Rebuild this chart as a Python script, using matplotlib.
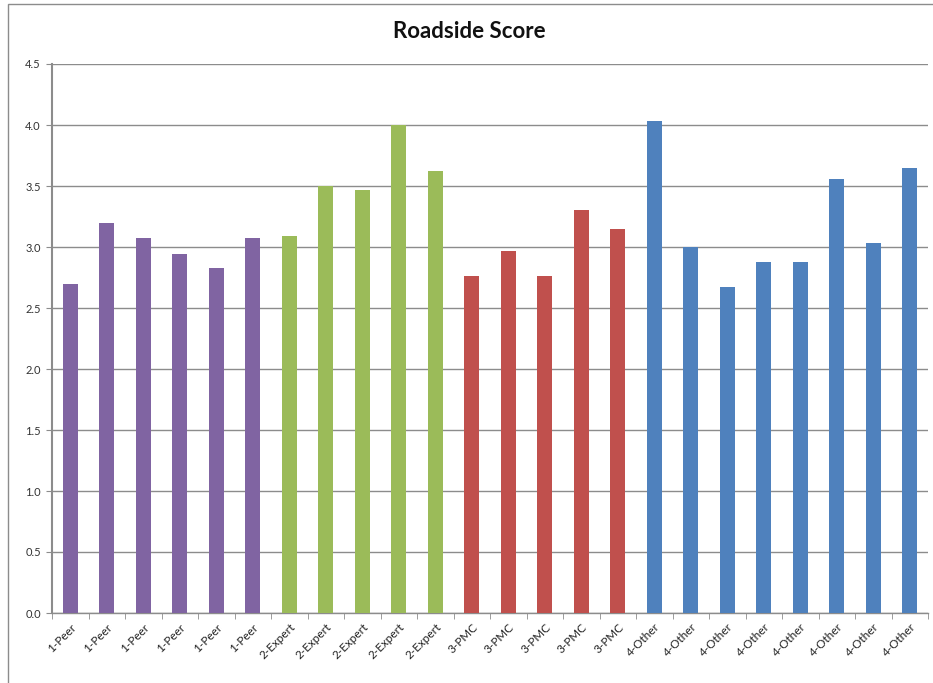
import matplotlib
matplotlib.use("Agg")
import matplotlib.pyplot as plt
from matplotlib.patches import Rectangle
import numpy as np

categories = ["1-Peer"] * 6 + ["2-Expert"] * 5 + ["3-PMC"] * 5 + ["4-Other"] * 8
values = [2.70, 3.20, 3.07, 2.94, 2.83, 3.07,
          3.09, 3.50, 3.47, 4.00, 3.62,
          2.76, 2.97, 2.76, 3.30, 3.15,
          4.03, 3.00, 2.67, 2.88, 2.88, 3.56, 3.03, 3.65]
group_colors = {"1-Peer": "#8064A2", "2-Expert": "#9BBB59",
                "3-PMC": "#C0504D", "4-Other": "#4F81BD"}
yticks = [0.0, 0.5, 1.0, 1.5, 2.0, 2.5, 3.0, 3.5, 4.0, 4.5]
title = "Roadside Score"

plt.rcParams['font.family'] = ['Lato', 'DejaVu Sans']

fig = plt.figure(figsize=(9.33, 6.83), dpi=100)
W, H = 933, 683
ax = fig.add_axes([52 / W, 1 - 613 / H, (928 - 52) / W, (613 - 64) / H])

x = np.arange(len(values))
colors = [group_colors[c] for c in categories]
ax.bar(x, values, width=0.41, color=colors, zorder=3)

ax.set_xlim(-0.5, len(values) - 0.5)
ax.set_ylim(0, 4.5)
ax.set_yticks(yticks)
ax.set_yticklabels([f"{v:.1f}" for v in yticks], fontsize=8, color="#333333")
ax.yaxis.grid(True, color="#8C8C8C", linewidth=1.0, zorder=0)
ax.set_axisbelow(True)

ax.set_xticks(x)
ax.set_xticklabels(categories, rotation=45, ha="right", rotation_mode="anchor",
                   fontsize=8.5, color="#222222")
ax.set_xticks(np.arange(len(values) + 1) - 0.5, minor=True)
ax.tick_params(axis="x", which="major", length=0, pad=6)
ax.tick_params(axis="x", which="minor", length=4, color="#8C8C8C", direction="out")
ax.tick_params(axis="y", length=4, color="#8C8C8C", direction="out", pad=4)

for s in ["top", "right"]:
    ax.spines[s].set_visible(False)
ax.spines["left"].set_color("#8C8C8C")
ax.spines["left"].set_linewidth(1.5)
ax.spines["bottom"].set_color("#8C8C8C")
ax.spines["bottom"].set_linewidth(1.0)

fig.text(0.5 + 3 / W, 1 - 32 / H, title, ha="center", va="center", fontsize=16,
         fontweight="bold", color="#111111")

# outer chart border (only top and left edges visible in the reference)
fig.patches.append(Rectangle((8 / W, -0.1), 1.2, 1 - 4 / H + 0.1, transform=fig.transFigure,
                             fill=False, edgecolor="#8C8C8C", linewidth=1.0))

fig.savefig("out.png", dpi=100)
